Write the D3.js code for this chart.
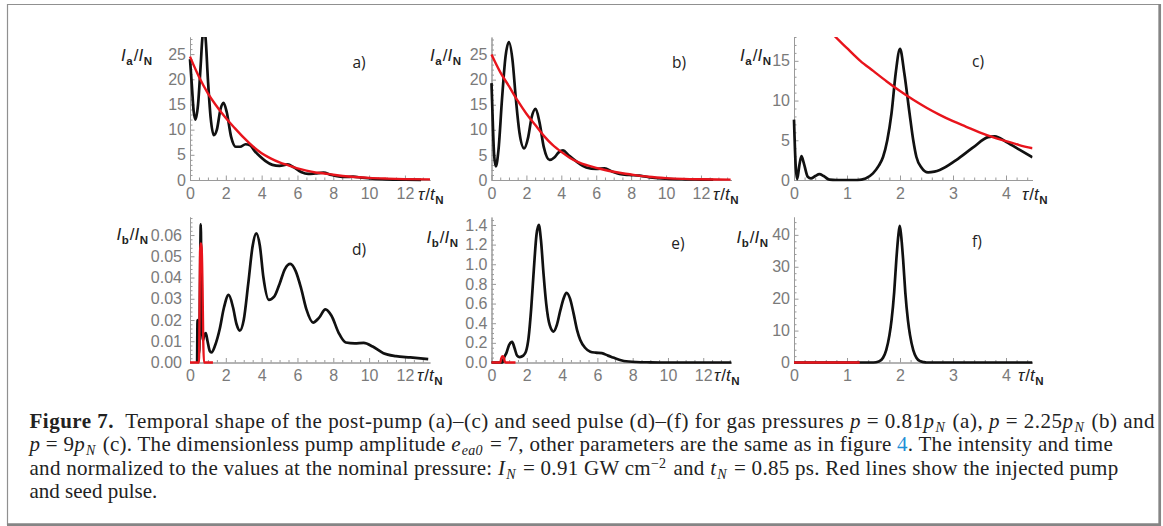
<!DOCTYPE html>
<html>
<head>
<meta charset="utf-8">
<script src="https://cdn.jsdelivr.net/npm/d3@7"></script>
<style>
  body { margin: 0; background: #fff; }
  svg { display: block; }
  .axis path, .axis line { stroke: #9a9a9a; stroke-width: 1; }
  .axis text { font-family: "Liberation Sans", Arial, sans-serif; font-size: 16px; fill: #7a7a7a; }
  .alabel { font-family: "Liberation Sans", Arial, sans-serif; font-size: 17px; fill: #222; }
  .tag { font-family: "Open Sans", "Liberation Sans", sans-serif; font-size: 15.5px; fill: #222; }
  .caption text { font-family: "Liberation Serif", "Times New Roman", serif; font-size: 21px; fill: #222; white-space: pre; }
</style>
</head>
<body>
<svg id="fig" width="1163" height="526"></svg>
<script>
// ---- data: [tau/tN, I/IN] ----
// a) p = 0.81 pN
const postPumpA = [[0,24.0],[0.1,19.0],[0.2,13.8],[0.31,12.0],[0.45,15.0],[0.6,23.0],[0.7,28.5],[0.78,29.5],[0.86,28.5],
  [1.0,20.0],[1.15,12.5],[1.33,8.9],[1.5,10.0],[1.7,14.0],[1.87,15.3],[2.05,13.5],[2.3,8.5],[2.55,6.6],[2.8,6.6],
  [3.1,7.1],[3.35,6.9],[3.6,5.8],[3.9,4.7],[4.2,3.8],[4.6,3.0],[5.0,2.8],[5.45,3.1],[5.8,2.5],[6.2,1.6],[6.6,1.2],
  [7.0,1.3],[7.45,1.45],[7.9,1.0],[8.3,0.7],[8.7,0.6],[9.1,0.66],[9.6,0.45],[10.2,0.25],[11.0,0.12],[12.0,0.06],[12.9,0.04]];
const pumpA = [[0,24.5],[0.5,20.5],[1.0,17.2],[1.5,14.6],[2.0,12.3],[2.5,10.3],[3.0,8.4],[3.5,6.7],[4.0,5.3],[4.5,4.3],
  [5.0,3.5],[5.5,2.9],[6.0,2.3],[6.5,1.85],[7.0,1.5],[7.5,1.3],[8.0,1.05],[9.0,0.65],[10.0,0.42],[11.0,0.28],[12.0,0.18],[13.4,0.12]];

// b) p = 2.25 pN
const postPumpB = [[0,19.3],[0.05,14.0],[0.15,5.0],[0.25,2.7],[0.4,6.0],[0.6,16.0],[0.8,24.5],[1.0,27.5],[1.2,24.0],
  [1.4,16.0],[1.6,9.5],[1.87,6.3],[2.1,8.5],[2.3,12.5],[2.53,14.2],[2.75,11.5],[3.0,6.5],[3.33,4.0],[3.6,4.5],[3.85,5.5],
  [4.1,5.9],[4.4,5.0],[4.86,3.7],[5.43,2.5],[6.0,2.2],[6.48,2.3],[6.9,1.7],[7.33,1.2],[7.9,1.0],[8.48,0.87],[9.24,0.45],
  [10.0,0.25],[11.1,0.13],[12.0,0.08],[12.7,0.05]];
const pumpB = [[0,25.0],[0.5,21.5],[1.0,18.7],[1.5,15.8],[2.0,13.2],[2.5,11.0],[3.0,8.8],[3.5,7.0],[4.0,5.6],[4.5,4.4],
  [5.0,3.5],[5.5,2.9],[6.0,2.4],[6.5,2.0],[7.0,1.65],[7.5,1.35],[8.0,1.1],[9.0,0.65],[10.0,0.38],[11.0,0.22],[12.0,0.14],[13.7,0.08]];

// c) p = 9 pN
const postPumpC = [[0,7.6],[0.03,2.0],[0.06,0.1],[0.1,1.8],[0.14,3.0],[0.19,2.0],[0.26,0.4],[0.32,0.2],[0.4,0.5],[0.48,0.75],
  [0.56,0.5],[0.67,0.05],[0.8,0],[1.2,0],[1.35,0.2],[1.49,0.84],[1.6,1.8],[1.68,2.9],[1.76,5.0],[1.84,8.4],[1.92,13.5],
  [2.0,16.5],[2.08,13.5],[2.18,8.4],[2.25,5.0],[2.31,2.9],[2.4,1.6],[2.53,0.95],[2.65,1.05],[2.75,1.25],[3.06,2.5],
  [3.38,4.1],[3.66,5.4],[3.79,5.5],[4.0,4.8],[4.26,3.8],[4.5,2.85]];
const pumpC = [[0.55,19.8],[0.7,18.6],[1.0,16.6],[1.25,15.0],[1.5,13.7],[1.75,12.4],[2.0,11.2],[2.25,10.1],[2.5,9.1],
  [2.75,8.2],[3.0,7.4],[3.25,6.7],[3.5,6.0],[3.75,5.4],[4.0,4.9],[4.25,4.4],[4.5,4.0]];

// d) seed, p = 0.81 pN
const seedOutD = [[0.4,0],[0.42,0.02],[0.44,0.003],[0.52,0.006],[0.56,0.035],[0.6,0.065],[0.63,0.045],[0.67,0.015],
  [0.72,0.0105],[0.8,0.013],[0.88,0.0138],[0.98,0.010],[1.1,0.0055],[1.2,0.0047],[1.4,0.008],[1.65,0.0154],[1.9,0.026],
  [2.16,0.0318],[2.4,0.026],[2.6,0.018],[2.78,0.015],[3.0,0.02],[3.25,0.037],[3.5,0.055],[3.7,0.0608],[3.9,0.055],
  [4.1,0.04],[4.4,0.0295],[4.7,0.031],[5.0,0.037],[5.3,0.044],[5.6,0.0464],[5.9,0.043],[6.2,0.035],[6.5,0.025],
  [6.87,0.0188],[7.2,0.021],[7.56,0.025],[7.9,0.022],[8.3,0.014],[8.7,0.0094],[9.2,0.009],[9.7,0.0092],[10.2,0.0075],
  [10.8,0.0044],[11.5,0.003],[12.3,0.0024],[13.3,0.0016]];
const seedInD = [[0,0],[0.5,0],[0.53,0.02],[0.56,0.052],[0.6,0.056],[0.65,0.054],[0.7,0.035],[0.74,0.01],[0.78,0],[1.28,0]];

// e) seed, p = 2.25 pN
const seedOutE = [[0,0],[0.62,0],[0.7,0.044],[0.85,0.1],[1.0,0.18],[1.17,0.21],[1.3,0.15],[1.45,0.07],[1.6,0.055],
  [1.8,0.07],[1.95,0.11],[2.1,0.25],[2.25,0.55],[2.4,0.95],[2.55,1.3],[2.68,1.4],[2.8,1.25],[2.95,0.9],[3.1,0.6],
  [3.3,0.38],[3.52,0.315],[3.7,0.38],[3.9,0.53],[4.1,0.66],[4.25,0.71],[4.45,0.65],[4.65,0.5],[4.85,0.33],[5.03,0.23],
  [5.3,0.15],[5.6,0.11],[5.9,0.1],[6.25,0.095],[6.6,0.07],[6.9,0.05],[7.2,0.03],[7.5,0.015],[8.2,0.005],[9.0,0.002],
  [10.0,0],[13.6,0]];
const seedInE = [[0,0],[0.5,0],[0.55,0.04],[0.62,0.065],[0.7,0.05],[0.75,0.01],[0.8,0],[1.36,0]];

// f) seed, p = 9 pN
const seedOutF = [[0,0],[1.5,0],[1.6,0.3],[1.68,1.5],[1.74,3.9],[1.8,8.5],[1.84,13.2],[1.89,22],[1.93,32],[1.97,40],
  [1.995,42.8],[2.02,40],[2.06,32],[2.1,22],[2.15,13.2],[2.19,8.5],[2.25,3.9],[2.31,1.5],[2.37,0.5],[2.45,0.1],[2.5,0],[4.5,0]];
const seedInF = [[0,0],[1.24,0]];

// tick values
const xTicksLong = [0, 2, 4, 6, 8, 10, 12];
const xTicksShort = [0, 1, 2, 3, 4];
const yTicksA = [0, 5, 10, 15, 20, 25];
const yTicksC = [0, 5, 10, 15];
const yTicksD = [0, 0.01, 0.02, 0.03, 0.04, 0.05, 0.06];
const yTicksE = [0, 0.2, 0.4, 0.6, 0.8, 1.0, 1.2, 1.4];
const yTicksF = [0, 10, 20, 30, 40];

// ---- layout ----
const cols = [{left: 190, right: 430}, {left: 491.5, right: 731.5}, {left: 794, right: 1032.5}];
const rows = [{top: 37, bottom: 180}, {top: 217, bottom: 362.5}];
const blackC = '#111', redC = '#e8141c';

const panels = [
  {tag: 'a)', col: 0, row: 0, xMax: 13.4, yMax: 28.4, xt: xTicksLong, xm: 0.5, yt: yTicksA, ym: 1, fmt: 'd', pad: 4,
   series: [postPumpA, pumpA], sub: 'a', yLab: [152, 61], xLab: [418, 200], tagPos: [359, 68]},
  {tag: 'b)', col: 1, row: 0, xMax: 13.75, yMax: 28.5, xt: xTicksLong, xm: 0.5, yt: yTicksA, ym: 1, fmt: 'd', pad: 4,
   series: [postPumpB, pumpB], sub: 'a', yLab: [461, 61], xLab: [713, 200], tagPos: [679, 68]},
  {tag: 'c)', col: 2, row: 0, xMax: 4.5, yMax: 18, xt: xTicksShort, xm: 0.2, yt: yTicksC, ym: 1, fmt: 'd', pad: 4,
   series: [postPumpC, pumpC], sub: 'a', yLab: [771, 61], xLab: [1022, 200], tagPos: [978, 67]},
  {tag: 'd)', col: 0, row: 1, xMax: 13.4, yMax: 0.0685, xt: xTicksLong, xm: 0.5, yt: yTicksD, ym: 0.002, fmt: '.2f', pad: 8,
   series: [seedOutD, seedInD], sub: 'b', yLab: [148, 240], xLab: [417, 381], tagPos: [359, 255]},
  {tag: 'e)', col: 1, row: 1, xMax: 13.6, yMax: 1.481, xt: xTicksLong, xm: 0.5, yt: yTicksE, ym: 0.05, fmt: '.1f', pad: 4,
   series: [seedOutE, seedInE], sub: 'b', yLab: [458, 243], xLab: [714, 381], tagPos: [678, 249]},
  {tag: 'f)', col: 2, row: 1, xMax: 4.5, yMax: 45.6, xt: xTicksShort, xm: 0.2, yt: yTicksF, ym: 2, fmt: 'd', pad: 4,
   series: [seedOutF, seedInF], sub: 'b', yLab: [768, 243], xLab: [1018, 381], tagPos: [977, 247]}
];

const svg = d3.select('#fig');
svg.append('rect').attr('width', 1163).attr('height', 526).attr('fill', '#fff');

// text made of pieces: [string, kind]
function richText(g, x, y, parts, anchor, cls) {
  const t = g.append('text').attr('x', x).attr('y', y).attr('class', cls).attr('text-anchor', anchor);
  let shift = 0;
  parts.forEach(([s, k]) => {
    const want = k === 'sub' ? 4 : 0;
    const sp = t.append('tspan').text(s).attr('dy', want - shift);
    shift = want;
    if (k === 'i') sp.attr('font-style', 'italic');
    if (k === 'sub') sp.attr('font-size', '11.5px').attr('font-weight', 'bold').attr('dx', 0.5);
    if (k === 'slash') sp.attr('dx', 1);
  });
  return t;
}

panels.forEach((p, i) => {
  const c = cols[p.col], r = rows[p.row];
  const w = c.right - c.left, h = r.bottom - r.top;
  const g = svg.append('g').attr('transform', `translate(${c.left},${r.top})`);

  const x = d3.scaleLinear().domain([0, p.xMax]).range([0, w]);
  const y = d3.scaleLinear().domain([0, p.yMax]).range([h, 0]);

  const xMinor = d3.range(0, p.xMax + 1e-9, p.xm).filter(v => !p.xt.some(t => Math.abs(t - v) < 1e-9));
  const yMinor = d3.range(0, p.yMax + 1e-9, p.ym).filter(v => !p.yt.some(t => Math.abs(t - v) < 1e-9));

  g.append('g').attr('class', 'axis').attr('transform', `translate(0,${h})`)
    .call(d3.axisBottom(x).tickValues(xMinor).tickSize(-2.5).tickSizeOuter(0).tickFormat(''));
  g.append('g').attr('class', 'axis').attr('transform', `translate(0,${h})`)
    .call(d3.axisBottom(x).tickValues(p.xt).tickSize(-4.5).tickSizeOuter(0).tickPadding(7.5).tickFormat(d3.format('d')));
  g.append('g').attr('class', 'axis')
    .call(d3.axisLeft(y).tickValues(yMinor).tickSize(-2.5).tickSizeOuter(0).tickFormat(''));
  g.append('g').attr('class', 'axis')
    .call(d3.axisLeft(y).tickValues(p.yt).tickSize(-4.5).tickSizeOuter(0).tickPadding(p.pad).tickFormat(d3.format(p.fmt)));

  const clipId = 'clip' + i;
  g.append('clipPath').attr('id', clipId).append('rect')
    .attr('x', -3).attr('y', 0).attr('width', w + 3).attr('height', h + 3);

  const line = d3.line().x(d => x(d[0])).y(d => y(d[1])).curve(d3.curveMonotoneX);
  const plot = g.append('g').attr('clip-path', `url(#${clipId})`);
  plot.append('path').datum(p.series[0]).attr('d', line)
    .attr('fill', 'none').attr('stroke', blackC).attr('stroke-width', 2.7).attr('stroke-linejoin', 'round');
  plot.append('path').datum(p.series[1]).attr('d', line)
    .attr('fill', 'none').attr('stroke', redC).attr('stroke-width', 2.4).attr('stroke-linejoin', 'round');

  // labels in page coordinates
  richText(svg, p.yLab[0], p.yLab[1], [['I', 'i'], [p.sub, 'sub'], ['/', 'slash'], ['I', 'i'], ['N', 'sub']], 'end', 'alabel');
  richText(svg, p.xLab[0], p.xLab[1], [['\u03c4', 'i'], ['/', 'slash'], ['t', 'i'], ['N', 'sub']], 'start', 'alabel');
  svg.append('text').attr('class', 'tag').attr('x', p.tagPos[0]).attr('y', p.tagPos[1])
    .attr('text-anchor', 'middle').text(p.tag);
});

// ---- caption ----
const captionLines = [
  [['Figure 7.', 'b'], ['  Temporal shape of the post-pump (a)\u2013(c) and seed pulse (d)\u2013(f) for gas pressures '], ['p', 'i'],
   [' = 0.81'], ['p', 'i'], ['N', 'isub'], [' (a), '], ['p', 'i'], [' = 2.25'], ['p', 'i'], ['N', 'isub'], [' (b) and']],
  [['p', 'i'], [' = 9'], ['p', 'i'], ['N', 'isub'], [' (c). The dimensionless pump amplitude '], ['e', 'i'], ['ea0', 'isub'],
   [' = 7, other parameters are the same as in figure '], ['4', 'link'], ['. The intensity and time']],
  [['and normalized to the values at the nominal pressure: '], ['I', 'i'], ['N', 'isub'], [' = 0.91 GW cm'], ['\u22122', 'sup'],
   [' and '], ['t', 'i'], ['N', 'isub'], [' = 0.85 ps. Red lines show the injected pump']],
  [['and seed pulse.']]
];
const lineEnds = [1150, 1108, 1112, null];

const cap = svg.append('g').attr('class', 'caption');
captionLines.forEach((segs, i) => {
  const t = cap.append('text').attr('x', 29.5).attr('y', 428 + i * 23.4);
  let shift = 0, prev = '';
  segs.forEach(([s, k]) => {
    const want = k === 'isub' ? 4 : (k === 'sup' ? -7 : 0);
    const sp = t.append('tspan').text(s).attr('dy', want - shift);
    shift = want;
    if (k === 'b') sp.attr('font-weight', 'bold');
    if (k === 'i' || k === 'isub') sp.attr('font-style', 'italic');
    if (k === 'isub' || k === 'sup') sp.attr('font-size', '14px');
    if (k === 'isub') sp.attr('dx', 1);
    if (prev === 'isub' || prev === 'sup') sp.attr('dx', 1.5);
    if (k === 'link') sp.attr('fill', '#1f8fd6');
    prev = k;
  });
  if (lineEnds[i]) {
    const len = t.node().getComputedTextLength();
    const chars = segs.map(s => s[0]).join('').length;
    t.attr('letter-spacing', (lineEnds[i] - 29.5 - len) / chars);
  }
});

// frame with heavier right/bottom edge
svg.append('line').attr('x1', 7).attr('x2', 1160).attr('y1', 4.5).attr('y2', 4.5).attr('stroke', '#909090').attr('stroke-width', 1.2);
svg.append('line').attr('x1', 7.5).attr('x2', 7.5).attr('y1', 4).attr('y2', 525).attr('stroke', '#909090').attr('stroke-width', 1.2);
svg.append('line').attr('x1', 1159.7).attr('x2', 1159.7).attr('y1', 4).attr('y2', 526).attr('stroke', '#858585').attr('stroke-width', 2.7);
svg.append('line').attr('x1', 7).attr('x2', 1161).attr('y1', 524.7).attr('y2', 524.7).attr('stroke', '#858585').attr('stroke-width', 2.7);
</script>
</body>
</html>
